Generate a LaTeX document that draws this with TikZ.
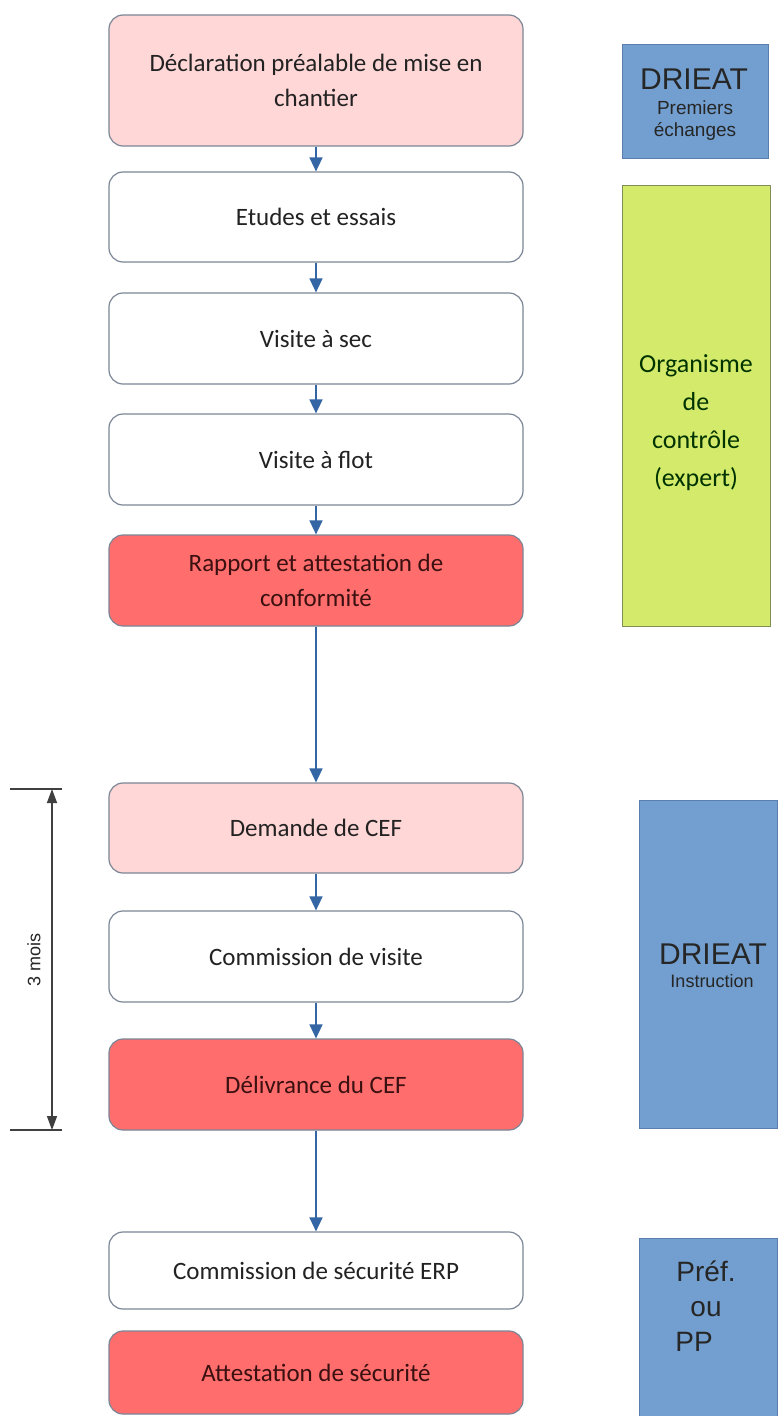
\documentclass[tikz,border=0pt]{standalone}
\usepackage{fontspec}
\usetikzlibrary{arrows.meta}
\newfontfamily\carl{Carlito}
\newfontfamily\lsans{Liberation Sans}
\definecolor{pinkfill}{HTML}{FFD7D7}
\definecolor{redfill}{HTML}{FF6D6D}
\definecolor{boxline}{HTML}{7B8696}
\definecolor{arrowblue}{HTML}{3465A4}
\definecolor{bluefill}{HTML}{729FCF}
\definecolor{blueline}{HTML}{5A7FAE}
\definecolor{greenfill}{HTML}{D4EA6B}
\definecolor{greenline}{HTML}{7F8F5A}
\definecolor{txt}{HTML}{222222}
\definecolor{redtxt}{HTML}{3A1010}
\begin{document}
\begin{tikzpicture}[x=1pt,y=-1pt,
  stepbox/.style={draw=boxline, line width=1.2pt, rounded corners=14pt, minimum width=414pt, inner sep=0pt, align=center, font=\carl\fontsize{25}{35}\selectfont, text=txt, fill=white},
  pinkbox/.style={stepbox, fill=pinkfill},
  redbox/.style={stepbox, fill=redfill, text=redtxt},
  sidebox/.style={draw=blueline, line width=1pt, fill=bluefill, inner sep=0pt},
  greenbox/.style={draw=greenline, line width=1pt, fill=greenfill, inner sep=0pt},
  sidebig/.style={anchor=base, inner sep=0pt, text=black!85, font=\lsans\fontsize{30}{32}\selectfont},
  sidesmall/.style={anchor=base, inner sep=0pt, text=black!85, font=\lsans\fontsize{19}{20}\selectfont},
  flow/.style={draw=arrowblue, line width=1.5pt, -{Triangle[length=14pt,width=13pt]}},
  dim/.style={draw=black!75, line width=1.5pt, {Triangle[length=14pt,width=10pt]}-{Triangle[length=14pt,width=10pt]}},
  tick/.style={draw=black!75, line width=1.5pt}
]
\fill[white] (0,0) rectangle (777,1416);
\useasboundingbox (0,0) rectangle (777,1416);

% left column
\node[pinkbox, minimum height=131pt] (n1) at (316,80.5) {Déclaration préalable de mise en\\chantier};
\node[stepbox, minimum height=90pt] (n2) at (316,217) {Etudes et essais};
\node[stepbox, minimum height=91pt] (n3) at (316,338.5) {Visite à sec};
\node[stepbox, minimum height=91pt] (n4) at (316,459.5) {Visite à flot};
\node[redbox, minimum height=91pt] (n5) at (316,580.5) {Rapport et attestation de\\conformité};
\node[pinkbox, minimum height=90pt] (n6) at (316,828) {Demande de CEF};
\node[stepbox, minimum height=91pt] (n7) at (316,956.5) {Commission de visite};
\node[redbox, minimum height=91pt] (n8) at (316,1084.5) {Délivrance du CEF};
\node[stepbox, minimum height=77pt] (n9) at (316,1270.5) {Commission de sécurité ERP};
\node[redbox, minimum height=83pt] (n10) at (316,1372.5) {Attestation de sécurité};

\draw[flow] (n1) -- (n2);
\draw[flow] (n2) -- (n3);
\draw[flow] (n3) -- (n4);
\draw[flow] (n4) -- (n5);
\draw[flow] (n5) -- (n6);
\draw[flow] (n6) -- (n7);
\draw[flow] (n7) -- (n8);
\draw[flow] (n8) -- (n9);

% right column
\node[sidebox, minimum width=146pt, minimum height=114pt] (r1) at (695,101) {};
\node[sidebig] (r1a) at (694,89) {DRIEAT};
\node[sidesmall] (r1b) at (695,114) {Premiers};
\node[sidesmall] (r1c) at (695,136) {échanges};

\node[greenbox, minimum width=148pt, minimum height=441pt] (r2) at (696,405.5) {};
\node[align=center, text=black!80!green, font=\carl\fontsize{26}{38}\selectfont] (r2t) at (696,423) {Organisme\\de\\contrôle\\(expert)};

\node[sidebox, minimum width=138pt, minimum height=328pt] (r3) at (708,964) {};
\node[sidebig] (r3a) at (713,964) {DRIEAT};
\node[sidesmall, font=\lsans\fontsize{18}{20}\selectfont] (r3b) at (712,987) {Instruction};

\node[sidebox, minimum width=138pt, minimum height=182pt] (r4) at (708,1329) {};
\node[align=center, text=black!85, font=\lsans\fontsize{28}{35}\selectfont] (r4t) at (706,1306) {Préf.\\ou\\PP\rule{24pt}{0pt}};

% dimension
\coordinate (dt) at (52,789);
\coordinate (db) at (52,1130);
\coordinate (tl1) at (10,789);
\coordinate (tr1) at (62,789);
\coordinate (tl2) at (10,1130);
\coordinate (tr2) at (62,1130);
\draw[tick] (tl1) -- (tr1);
\draw[tick] (tl2) -- (tr2);
\draw[dim] (dt) -- (db);
\node[rotate=90, font=\lsans\fontsize{18}{20}\selectfont, text=black!85] (mois) at (34,960) {3 mois};
\end{tikzpicture}
\end{document}
